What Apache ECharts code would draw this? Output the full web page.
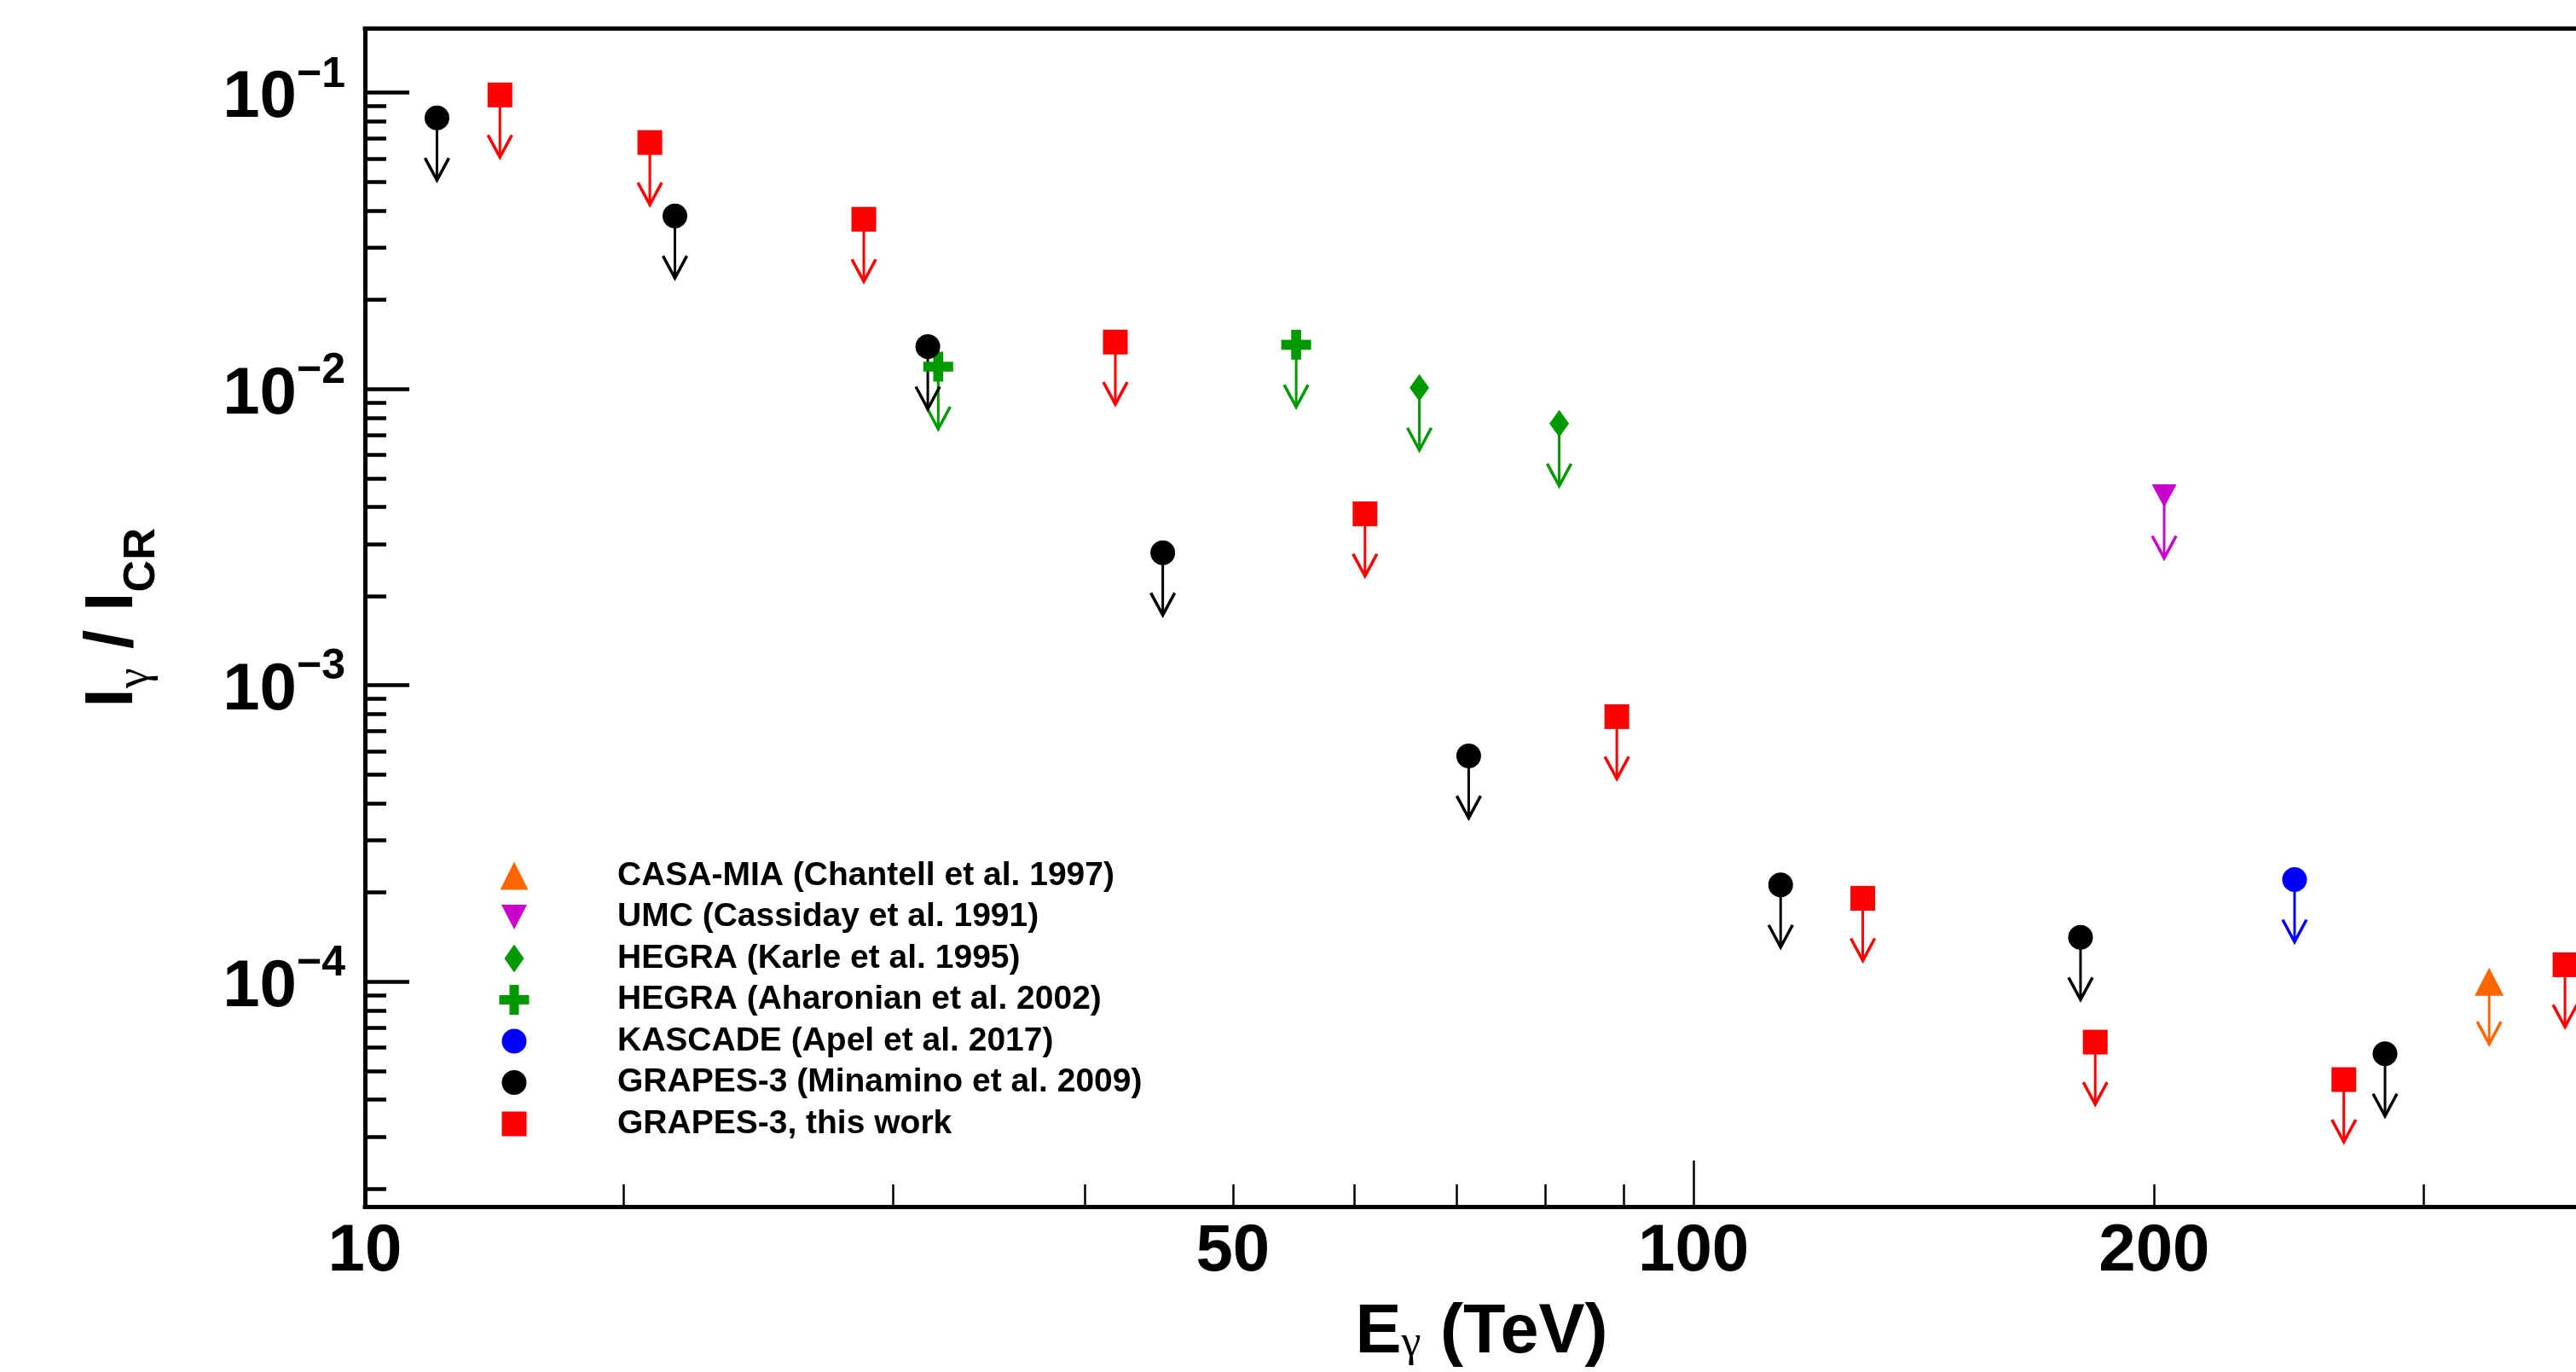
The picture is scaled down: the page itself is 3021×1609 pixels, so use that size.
<!DOCTYPE html>
<html>
<head>
<meta charset="utf-8">
<script src="https://cdn.jsdelivr.net/npm/echarts@6/dist/echarts.min.js"></script>
<style>
html,body{margin:0;padding:0;background:#ffffff;}
#chart{width:3021px;height:1609px;}
</style>
</head>
<body>
<div id="chart"></div>
<script>
// ---------------- data (upper limits, I_gamma / I_CR vs E_gamma in TeV) ----------------
const seriesNames = [
  'CASA-MIA (Chantell et al. 1997)',
  'UMC (Cassiday et al. 1991)',
  'HEGRA (Karle et al. 1995)',
  'HEGRA (Aharonian et al. 2002)',
  'KASCADE (Apel et al. 2017)',
  'GRAPES-3 (Minamino et al. 2009)',
  'GRAPES-3, this work'
];
const casaE = [331];
const casaR = [1.0e-4];
const umcE = [203];
const umcR = [4.36e-3];
const karleE = [66.2, 81.7];
const karleR = [1.01e-2, 7.64e-3];
const aharonianE = [32.1, 55.0];
const aharonianR = [1.19e-2, 1.41e-2];
const kascadeE = [247];
const kascadeR = [2.21e-4];
const minaminoE = [15.1, 21.6, 31.6, 45.0, 71.3, 114, 179, 283];
const minaminoR = [0.0822, 0.0384, 0.0139, 0.0028, 5.78e-4, 2.12e-4, 1.41e-4, 5.71e-5];
const thisWorkE = [16.6, 20.8, 28.7, 41.9, 61.0, 89.1, 129, 183, 266, 371];
const thisWorkR = [0.0983, 0.0679, 0.0374, 0.0144, 3.79e-3, 7.84e-4, 1.91e-4, 6.25e-5, 4.67e-5, 1.14e-4];

// ---------------- axes (visible window of the plot) ----------------
const xRange = [13.55, 377.2];
const yRange = [1.741e-5, 0.1644];
const xTickLabels = [10, 50, 100, 200];
const xTickMajor = [100];
const xTickMinor = [20, 30, 40, 50, 60, 70, 80, 90, 200, 300];
const yTickMajor = [1e-4, 1e-3, 1e-2, 1e-1];
const yMinorMultipliers = [2, 3, 4, 5, 6, 7, 8, 9];
const yMinorDecades = [1e-5, 1e-4, 1e-3, 1e-2, 1e-1];

const FONT = '"Liberation Sans", Arial, Helvetica, sans-serif';
const SERIF = '"Liberation Serif", "DejaVu Serif", serif';
const lg = Math.log10;
const xMin = lg(xRange[0]), xMax = lg(xRange[1]);
const yMin = lg(yRange[0]), yMax = lg(yRange[1]);

const xLabelPos = xTickLabels.map(v => Math.max(lg(v), xMin));
const yMinorPos = [];
yMinorDecades.forEach(d => yMinorMultipliers.forEach(m => {
  const p = lg(m * d);
  if (p > yMin && p < yMax) yMinorPos.push(p);
}));

// ---------------- styles ----------------
const styles = [
  {color: '#ff6600', symbol: 'triangle', size: [34, 33],
   icon: 'path://M0,0M36,36M1.5,34.5L18,1.5L34.5,34.5Z'},
  {color: '#cc00cc', symbol: 'path://M0,0L29,0L14.5,27Z', size: [29, 27],
   icon: 'path://M0,0M36,36M3,3.5L33,3.5L18,32.5Z'},
  {color: '#009900', symbol: 'diamond', size: [23, 32],
   icon: 'path://M0,0M36,36M18,1.5L29.5,18L18,34.5L6.5,18Z'},
  {color: '#009900', symbol: 'path://M12,0L24,0L24,12L36,12L36,24L24,24L24,36L12,36L12,24L0,24L0,12L12,12Z', size: 35,
   icon: 'path://M0,0M36,36M12.5,0.5L23.5,0.5L23.5,12.5L35.5,12.5L35.5,23.5L23.5,23.5L23.5,35.5L12.5,35.5L12.5,23.5L0.5,23.5L0.5,12.5L12.5,12.5Z'},
  {color: '#0000ff', symbol: 'circle', size: 29,
   icon: 'path://M0,0M36,36M3.5,18A14.5,14.5 0 1,1 32.5,18A14.5,14.5 0 1,1 3.5,18Z'},
  {color: '#000000', symbol: 'circle', size: 29,
   icon: 'path://M0,0M36,36M3.5,18A14.5,14.5 0 1,1 32.5,18A14.5,14.5 0 1,1 3.5,18Z'},
  {color: '#ff0000', symbol: 'rect', size: 29,
   icon: 'path://M0,0M36,36M3.5,3.5L32.5,3.5L32.5,32.5L3.5,32.5Z'}
];
const energies = [casaE, umcE, karleE, aharonianE, kascadeE, minaminoE, thisWorkE];
const ratios = [casaR, umcR, karleR, aharonianR, kascadeR, minaminoR, thisWorkR];

function arrowRenderer(color) {
  return function (params, api) {
    const p = api.coord([api.value(0), api.value(1)]);
    const len = 73, hl = 26, hw = 14;
    const tx = p[0], ty = p[1] + len;
    return {
      type: 'group',
      children: [
        {type: 'line', shape: {x1: p[0], y1: p[1], x2: tx, y2: ty},
         style: {stroke: color, lineWidth: 3}},
        {type: 'polyline', shape: {points: [[tx - hw, ty - hl], [tx, ty], [tx + hw, ty - hl]]},
         style: {stroke: color, lineWidth: 3.5, fill: null}}
      ]
    };
  };
}

const series = [];
seriesNames.forEach((name, k) => {
  const data = energies[k].map((e, i) => [lg(e), lg(ratios[k][i])]);
  const st = styles[k];
  series.push({
    type: 'custom', name: name + ' limit', xAxisIndex: 0, yAxisIndex: 0,
    renderItem: arrowRenderer(st.color), data: data, silent: true, z: 3
  });
  series.push({
    type: 'scatter', name: name, xAxisIndex: 0, yAxisIndex: 0,
    symbol: st.symbol, symbolSize: st.size, data: data,
    itemStyle: {color: st.color, opacity: 1}, z: 3
  });
});

const tickLabelStyle = {fontFamily: FONT, fontWeight: 'bold', color: '#000'};
const frameLine = {show: true, lineStyle: {color: '#000', width: 5, cap: 'square'}};

const option = {
  animation: false,
  backgroundColor: '#ffffff',
  grid: {left: 428, top: 33.7, right: 0, bottom: 188, show: false},
  legend: {
    orient: 'vertical', left: 585, top: 1007, padding: 0,
    itemWidth: 232, itemHeight: 36, itemGap: 8.5, selectedMode: false,
    symbolKeepAspect: true,
    textStyle: {fontFamily: FONT, fontWeight: 'bold', fontSize: 39, color: '#000', lineHeight: 40},
    data: seriesNames.map((n, k) => ({name: n, icon: styles[k].icon}))
  },
  xAxis: [
    {
      type: 'value', min: xMin, max: xMax, position: 'bottom',
      axisLine: frameLine, splitLine: {show: false},
      axisTick: {show: true, inside: true, length: 54, customValues: xTickMajor.map(lg),
                 lineStyle: {color: '#000', width: 2.5}},
      axisLabel: {
        show: true, margin: 14, customValues: xLabelPos, showMinLabel: true, showMaxLabel: true,
        fontSize: 78, lineHeight: 78, ...tickLabelStyle,
        formatter: function (v) {
          let best = 0, bd = 1e9;
          xLabelPos.forEach((p, i) => { const d = Math.abs(p - v); if (d < bd) { bd = d; best = i; } });
          return String(xTickLabels[best]);
        }
      },
      name: '{b|E}{g|γ}{b| (TeV)}', nameLocation: 'middle', nameGap: 108,
      nameTextStyle: {
        padding: [0, 0, 0, 26],
        rich: {
          b: {fontFamily: FONT, fontWeight: 'bold', fontSize: 81, lineHeight: 81, color: '#000'},
          g: {fontFamily: SERIF, fontWeight: 'normal', fontSize: 52, lineHeight: 52, color: '#000', padding: [25, 0, 0, 0]}
        }
      }
    },
    {
      type: 'value', min: xMin, max: xMax, position: 'bottom',
      axisLine: {show: false}, splitLine: {show: false}, axisLabel: {show: false},
      axisTick: {show: true, inside: true, length: 26, customValues: xTickMinor.map(lg),
                 lineStyle: {color: '#000', width: 2.5}}
    },
    {
      type: 'value', min: xMin, max: xMax, position: 'top',
      axisLine: frameLine, splitLine: {show: false}, axisLabel: {show: false}, axisTick: {show: false}
    }
  ],
  yAxis: [
    {
      type: 'value', min: yMin, max: yMax, position: 'left',
      axisLine: frameLine, splitLine: {show: false},
      axisTick: {show: true, inside: true, length: 52, customValues: yTickMajor.map(lg),
                 lineStyle: {color: '#000', width: 4.5}},
      axisLabel: {
        show: true, margin: 23, customValues: yTickMajor.map(lg), showMinLabel: true, showMaxLabel: true,
        formatter: function (v) { return '{b|10}{s|−' + Math.round(-v) + '}'; },
        rich: {
          b: {fontFamily: FONT, fontWeight: 'bold', fontSize: 78, lineHeight: 78, color: '#000', padding: [14, 0, 0, 0]},
          s: {fontFamily: FONT, fontWeight: 'bold', fontSize: 50, lineHeight: 50, color: '#000', padding: [0, 0, 42, 0]}
        }
      },
      name: '{b|I}{g|γ}{b| / I}{c|CR}', nameLocation: 'middle', nameRotate: 90, nameGap: 255,
      nameTextStyle: {
        rich: {
          b: {fontFamily: FONT, fontWeight: 'bold', fontSize: 80, lineHeight: 80, color: '#000'},
          g: {fontFamily: SERIF, fontWeight: 'normal', fontSize: 54, lineHeight: 54, color: '#000', padding: [52, 0, 0, 0]},
          c: {fontFamily: FONT, fontWeight: 'bold', fontSize: 52, lineHeight: 52, color: '#000', padding: [68, 0, 0, 0]}
        }
      }
    },
    {
      type: 'value', min: yMin, max: yMax, position: 'left',
      axisLine: {show: false}, splitLine: {show: false}, axisLabel: {show: false},
      axisTick: {show: true, inside: true, length: 25, customValues: yMinorPos,
                 lineStyle: {color: '#000', width: 4.5}}
    }
  ],
  series: series
};

const chart = echarts.init(document.getElementById('chart'), null, {renderer: 'canvas'});
chart.setOption(option);
</script>
</body>
</html>
